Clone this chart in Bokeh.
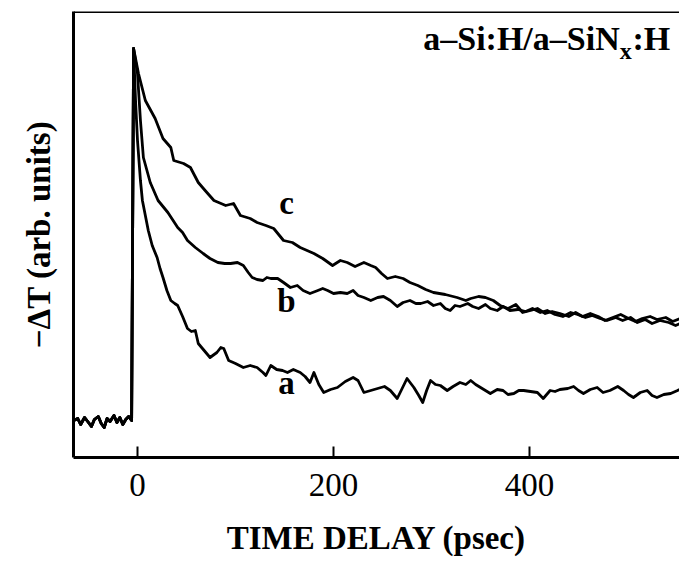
from bokeh.plotting import figure
from bokeh.models import FixedTicker, Span, Label
from bokeh.embed import file_html
from bokeh.resources import INLINE

# ---- data (time delay in psec, -dT in arbitrary units) ----
pre_t = [-65, -61, -58, -54, -50, -47, -44, -40, -37, -34, -31, -28, -24, -21, -18, -15, -12, -9, -6, -4]
pre_y = [1, 3, -3, 4, -1, -5, 2, 5, -2, -6, 3, 0, 6, -1, 4, -3, 2, 5, 1, 373]

c_t = [1, 8, 18, 26, 34, 37, 47, 54, 62, 69, 78, 90, 98, 105, 115, 122, 131, 139, 149, 158,
       166, 173, 180, 189, 199, 207, 214, 222, 231, 238, 243, 249, 255, 263, 271, 278, 286, 294,
       302, 314, 326, 335, 340, 348, 355, 363, 370, 378, 386, 393, 401, 408, 416, 423, 431, 440,
       447, 454, 462, 470, 477, 485, 493, 501, 508, 515, 523, 530, 539, 546, 554, 561]
c_y = [348, 321, 303, 283, 274, 261, 258, 254, 239, 231, 221, 216, 218, 206, 203, 199, 196, 193, 181, 179,
       174, 171, 168, 163, 156, 161, 159, 155, 159, 156, 154, 148, 143, 145, 143, 139, 136, 132,
       129, 127, 124, 121, 123, 125, 124, 121, 116, 113, 117, 109, 111, 113, 108, 110, 108, 105,
       109, 105, 108, 105, 101, 104, 107, 103, 100, 103, 105, 102, 104, 100, 103, 101]

b_t = [0, 3, 6, 13, 21, 31, 41, 46, 51, 59, 67, 74, 82, 89, 95, 102, 108, 113, 117, 122, 128, 132,
       136, 143, 149, 156, 163, 169, 176, 184, 189, 194, 200, 207, 214, 220, 225, 231, 238, 245, 251,
       258, 265, 271, 278, 284, 289, 296, 302, 309, 314, 319, 324, 329, 337, 342, 348, 355, 360, 367,
       373, 380, 388, 396, 403, 411, 418, 426, 434, 442, 449, 457, 464, 472, 479, 488, 495, 503, 510,
       518, 525, 533, 542, 549, 556, 561]
b_y = [348, 301, 264, 239, 221, 209, 194, 189, 181, 174, 168, 163, 159, 158, 158, 159, 156, 149, 144, 142, 141, 144,
       143, 143, 139, 134, 136, 131, 128, 131, 133, 131, 128, 129, 128, 131, 126, 124, 121, 124, 125,
       121, 115, 119, 121, 118, 118, 120, 116, 118, 113, 111, 116, 115, 118, 115, 113, 117, 113, 111,
       115, 111, 112, 110, 113, 109, 111, 107, 105, 109, 107, 104, 106, 103, 101, 104, 101, 104, 99,
       102, 98, 101, 99, 96, 99, 95]

a_t = [-2, 0, 3, 5, 8, 11, 15, 20, 23, 26, 30, 34, 38, 41, 46, 51, 55, 59, 62, 68, 74, 81, 85, 88,
       93, 100, 108, 115, 122, 128, 131, 136, 142, 148, 153, 159, 166, 171, 176, 180, 185, 190, 197,
       204, 212, 220, 225, 231, 238, 245, 252, 258, 265, 270, 275, 282, 287, 291, 295, 299, 304, 309,
       316, 322, 329, 335, 340, 345, 350, 355, 360, 367, 373, 378, 384, 389, 394, 401, 408, 414, 421,
       426, 431, 439, 445, 450, 455, 462, 469, 475, 482, 490, 496, 501, 506, 513, 520, 525, 530, 537,
       544, 551, 557, 561]
a_y = [321, 281, 241, 221, 206, 191, 176, 164, 153, 144, 131, 121, 118, 116, 105, 93, 90, 91, 78, 71, 64, 69, 74, 73,
       61, 58, 54, 56, 54, 49, 46, 56, 52, 51, 49, 52, 49, 45, 39, 49, 37, 29, 32,
       34, 40, 44, 41, 29, 31, 33, 35, 31, 23, 33, 43, 34, 26, 19, 31, 41, 37, 36,
       31, 35, 39, 37, 41, 37, 34, 31, 28, 32, 31, 27, 28, 31, 31, 30, 29, 23, 31,
       30, 32, 33, 35, 31, 28, 32, 34, 29, 31, 35, 31, 27, 24, 29, 31, 26, 24, 27,
       28, 31, 34, 33]

x_ticks = [0, 200, 400]
x_tick_labels = {0: "0", 200: "200", 400: "400"}

SERIF = "Liberation Serif"

p = figure(width=679, height=559, x_range=(-65.3, 553), y_range=(-36, 410),
           output_backend="svg", toolbar_location=None,
           min_border_left=73, min_border_right=0, min_border_top=11, min_border_bottom=102)
p.background_fill_color = "white"
p.border_fill_color = "white"
p.outline_line_color = None
p.xgrid.visible = False
p.ygrid.visible = False

for t, y in ((a_t, a_y), (b_t, b_y), (c_t, c_y)):
    p.line(pre_t + t, pre_y + y, line_color="black", line_width=2.8, line_join="round")

# x axis
xa = p.xaxis[0]
xa.ticker = FixedTicker(ticks=x_ticks)
xa.major_label_overrides = x_tick_labels
xa.minor_tick_line_color = None
xa.major_tick_in = 11
xa.major_tick_out = 0
xa.major_tick_line_width = 2
xa.axis_line_width = 3
xa.major_label_text_font = SERIF
xa.major_label_text_font_size = "33px"
xa.major_label_text_color = "black"
xa.major_label_standoff = 16
xa.axis_label = "TIME DELAY (psec)"
xa.axis_label_text_font = SERIF
xa.axis_label_text_font_style = "bold"
xa.axis_label_text_font_size = "33px"
xa.axis_label_text_color = "black"
xa.axis_label_standoff = 21

# y axis
ya = p.yaxis[0]
ya.ticker = FixedTicker(ticks=[])
ya.minor_tick_line_color = None
ya.major_tick_line_color = None
ya.axis_line_width = 3
ya.axis_label = "\u2212\u0394T (arb. units)"
ya.axis_label_text_font = SERIF
ya.axis_label_text_font_style = "bold"
ya.axis_label_text_font_size = "33px"
ya.axis_label_text_color = "black"
ya.axis_label_standoff = 17

# top border
p.add_layout(Span(location=410, dimension="width", line_color="black", line_width=3))

# title inside plot: a–Si:H/a–SiN_x:H
p.add_layout(Label(x=492, y=365, text="a\u2013Si:H/a\u2013SiN", text_align="right",
                   text_font=SERIF, text_font_style="bold", text_font_size="34px", text_color="black"))
p.add_layout(Label(x=492, y=358, text="x", text_align="left",
                   text_font=SERIF, text_font_style="bold", text_font_size="24px", text_color="black"))
p.add_layout(Label(x=505, y=365, text=":H", text_align="left",
                   text_font=SERIF, text_font_style="bold", text_font_size="34px", text_color="black"))

# curve labels
for txt, yy in (("c", 201), ("b", 103), ("a", 21)):
    p.add_layout(Label(x=152, y=yy, text=txt, text_align="center",
                       text_font=SERIF, text_font_style="bold", text_font_size="33px", text_color="black"))

open("out.html", "w").write(file_html(p, INLINE))
